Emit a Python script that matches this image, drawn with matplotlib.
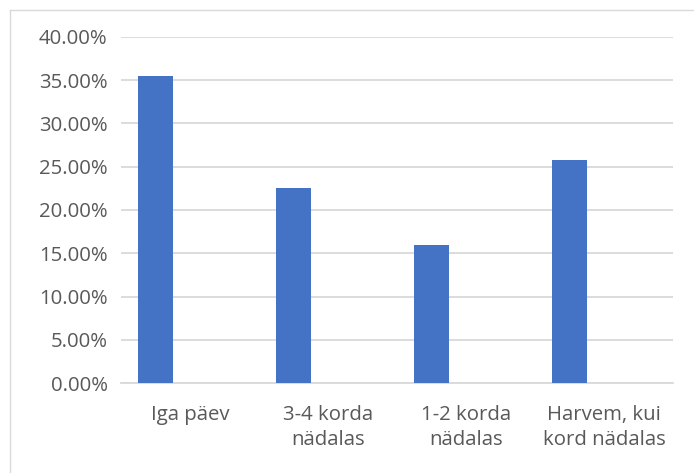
import matplotlib
matplotlib.use("Agg")
import matplotlib.pyplot as plt
from matplotlib.ticker import FuncFormatter, MultipleLocator
from matplotlib.lines import Line2D
import numpy as np

categories = ["Iga päev", "3-4 korda\nnädalas", "1-2 korda\nnädalas", "Harvem, kui\nkord nädalas"]
shares = [0.355, 0.225, 0.160, 0.258]

bar_color = "#4472C4"
text_color = "#595959"
grid_color = "#D9D9D9"

plt.rcParams["font.family"] = ["Open Sans", "DejaVu Sans"]

fig = plt.figure(figsize=(6.94, 4.73), dpi=100)
ax = fig.add_axes([0.174, 0.190, 0.796, 0.7324])

x = np.arange(len(categories))
ax.bar(x - 0.25, shares, width=0.25, color=bar_color, zorder=3)

ax.set_xlim(-0.5, len(categories) - 0.5)
ax.set_ylim(0, 0.40)
ax.yaxis.set_major_locator(MultipleLocator(0.05))
ax.yaxis.set_major_formatter(FuncFormatter(lambda v, _: f"{v * 100:.2f}%"))
ax.grid(axis="y", color=grid_color, linewidth=1.3, zorder=0)
ax.set_xticks(x)
ax.set_xticklabels(categories, linespacing=1.3)

for s in ["top", "right", "left"]:
    ax.spines[s].set_visible(False)
ax.spines["bottom"].set_color(grid_color)
ax.spines["bottom"].set_linewidth(1.3)

ax.tick_params(axis="both", length=0, labelsize=14.7, labelcolor=text_color)
ax.tick_params(axis="y", pad=9.5)
ax.tick_params(axis="x", pad=16)

# outer chart frame (left and top edges)
W, H = 694, 473
fig.add_artist(Line2D([9.5 / W, 9.5 / W], [0, 1 - 10.5 / H], transform=fig.transFigure,
                      color=grid_color, linewidth=1.0))
fig.add_artist(Line2D([9.5 / W, 1], [1 - 10.5 / H, 1 - 10.5 / H], transform=fig.transFigure,
                      color=grid_color, linewidth=1.0))

fig.savefig("out.png", dpi=100)
